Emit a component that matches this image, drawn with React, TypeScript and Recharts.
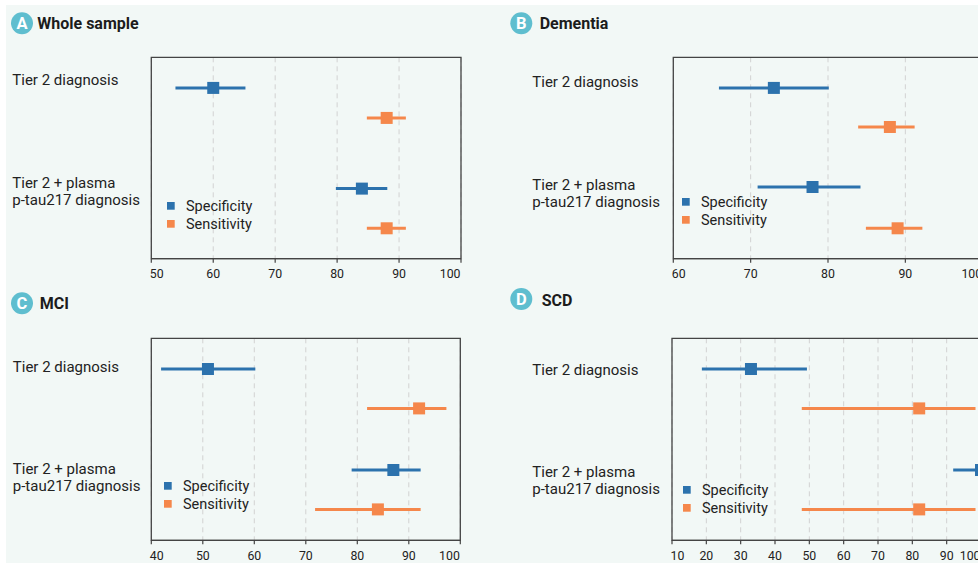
import React from 'react';
import {
  ScatterChart,
  Scatter,
  XAxis,
  YAxis,
  CartesianGrid,
  ErrorBar,
  ReferenceArea,
  Legend,
} from 'recharts';

// ---------- data ----------
const panelLetters = ['A', 'B', 'C', 'D'];
const panelTitles = ['Whole sample', 'Dementia', 'MCI', 'SCD'];
const groupLabels = [['Tier 2 diagnosis'], ['Tier 2 + plasma', 'p-tau217 diagnosis']];
const seriesNames = ['Specificity', 'Sensitivity'];
const seriesColors = ['#2c72ad', '#f5874b'];

const ticksA = [50, 60, 70, 80, 90, 100];
const ticksB = [60, 70, 80, 90, 100];
const ticksC = [40, 50, 60, 70, 80, 90, 100];
const ticksD = [10, 20, 30, 40, 50, 60, 70, 80, 90, 100];

// values per group: [Tier 2, Tier 2 + plasma p-tau217]
const specA = [60.0, 84.0];
const specLowA = [53.9, 79.8];
const specHighA = [65.2, 88.1];
const sensA = [88.0, 88.0];
const sensLowA = [84.8, 84.8];
const sensHighA = [91.1, 91.1];

const specB = [73.0, 78.0];
const specLowB = [65.9, 70.9];
const specHighB = [80.1, 84.2];
const sensB = [88.0, 89.0];
const sensLowB = [83.9, 84.9];
const sensHighB = [91.2, 92.2];

const specC = [51.0, 87.0];
const specLowC = [41.9, 78.9];
const specHighC = [60.2, 92.3];
const sensC = [92.0, 84.0];
const sensLowC = [81.9, 71.8];
const sensHighC = [97.3, 92.3];

const specD = [33.0, 100.0];
const specLowD = [18.7, 91.9];
const specHighD = [49.3, 100.0];
const sensD = [82.0, 82.0];
const sensLowD = [47.8, 47.8];
const sensHighD = [98.4, 98.4];

// row placement on the (0-100, top-down) vertical scale
const specRowA = [15.2, 65.2];
const sensRowA = [30.1, 84.9];
const specRowB = [15.2, 64.4];
const sensRowB = [34.6, 84.9];
const specRowC = [15.2, 65.2];
const sensRowC = [34.7, 84.7];
const specRowD = [15.2, 65.2];
const sensRowD = [34.7, 84.7];

const labelRowA = [14.0, 64.7];
const labelRowB = [14.9, 65.9];
const labelRowC = [16.6, 67.3];
const labelRowD = [18.2, 68.8];

// ---------- helpers ----------
const build = (v: number[], lo: number[], hi: number[], row: number[]) =>
  v.map((val, i) => ({ x: val, y: row[i], err: [val - lo[i], hi[i] - val] }));

const TEXT = '#222222';
const AXIS = '#444444';

type PanelCfg = {
  left: number;
  top: number;
  width: number;
  height: number;
  margin: { top: number; right: number; bottom: number; left: number };
  xAxisHeight: number;
  ticks: number[];
  spec: any[];
  sens: any[];
  labelRows: number[];
  labelX: number;
  legendX: number;
  legendY: number;
};

const panels: PanelCfg[] = [
  {
    left: 0, top: 0, width: 490, height: 290,
    margin: { top: 57.3, right: 29, bottom: 1.3, left: 151.3 },
    xAxisHeight: 30, ticks: ticksA,
    spec: build(specA, specLowA, specHighA, specRowA),
    sens: build(sensA, sensLowA, sensHighA, sensRowA),
    labelRows: labelRowA, labelX: 12.3, legendX: 166.7, legendY: 201.7,
  },
  {
    left: 490, top: 0, width: 520, height: 290,
    margin: { top: 57.3, right: 27.3, bottom: 1.3, left: 183.3 },
    xAxisHeight: 30, ticks: ticksB,
    spec: build(specB, specLowB, specHighB, specRowB),
    sens: build(sensB, sensLowB, sensHighB, sensRowB),
    labelRows: labelRowB, labelX: 532.3, legendX: 682.3, legendY: 197.7,
  },
  {
    left: 0, top: 280, width: 490, height: 283,
    margin: { top: 58.3, right: 29.7, bottom: 0, left: 151.3 },
    xAxisHeight: 22.7, ticks: ticksC,
    spec: build(specC, specLowC, specHighC, specRowC),
    sens: build(sensC, sensLowC, sensHighC, sensRowC),
    labelRows: labelRowC, labelX: 12.8, legendX: 164.3, legendY: 481.7,
  },
  {
    left: 490, top: 280, width: 520, height: 283,
    margin: { top: 58.3, right: 29, bottom: 0, left: 182 },
    xAxisHeight: 22.7, ticks: ticksD,
    spec: build(specD, specLowD, specHighD, specRowD),
    sens: build(sensD, sensLowD, sensHighD, sensRowD),
    labelRows: labelRowD, labelX: 532.3, legendX: 683, legendY: 486,
  },
];

const headers = [
  { cx: 22, cy: 23.3, tx: 37.3, ty: 29.3 },
  { cx: 521.3, cy: 23.3, tx: 539.7, ty: 29.3 },
  { cx: 22, cy: 303.3, tx: 39.7, ty: 309.3 },
  { cx: 521.3, cy: 299, tx: 541.7, ty: 305.7 },
];

const squareShape = (color: string) => (props: any) => {
  const { cx, cy } = props;
  if (cx == null || cy == null) return <g />;
  return <rect x={cx - 6} y={cy - 6} width={12} height={12} fill={color} />;
};

const makeXTick = (ticks: number[]) => (props: any) => {
  const { x, y, payload } = props;
  const v = payload.value;
  let anchor: 'start' | 'middle' | 'end' = 'middle';
  let dx = 0;
  if (v === ticks[0]) { anchor = 'start'; dx = -1.5; }
  else if (v === ticks[ticks.length - 1]) { anchor = 'end'; dx = -0.5; }
  return (
    <text x={x + dx} y={y} dy={15.3} textAnchor={anchor} fontSize={12.3} fill={TEXT} fontFamily="Roboto">
      {v}
    </text>
  );
};

const makeYTick = (rows: number[], lx: number) => (props: any) => {
  const { y, payload } = props;
  let idx = 0;
  let best = Infinity;
  rows.forEach((r, i) => {
    const d = Math.abs(r - payload.value);
    if (d < best) { best = d; idx = i; }
  });
  const lines = groupLabels[idx] || [];
  return (
    <text x={lx} y={y} textAnchor="start" fontSize={15} fill={TEXT} fontFamily="Roboto">
      {lines.map((l, i) => (
        <tspan key={i} x={lx} dy={i === 0 ? 0 : 17.2}>{l}</tspan>
      ))}
    </text>
  );
};

const renderLegend = (props: any) => {
  const raw = props.payload || [];
  const items = seriesNames.map((name, i) => {
    const found = raw.find((it: any) => it.value === name);
    return { value: name, color: (found && found.color) || seriesColors[i] };
  });
  return (
    <svg width={110} height={36} style={{ display: 'block', overflow: 'visible' }}>
      {items.map((it: any, i: number) => (
        <g key={i}>
          <rect x={0} y={i * 18} width={7.7} height={7.7} fill={it.color} />
          <text x={19} y={i * 18 + 9.3} fontSize={14.5} fill={TEXT} fontFamily="Roboto">
            {it.value}
          </text>
        </g>
      ))}
    </svg>
  );
};

function Panel({ cfg }: { cfg: PanelCfg }) {
  const xMin = cfg.ticks[0];
  const xMax = cfg.ticks[cfg.ticks.length - 1];
  const yAxisWidth = cfg.margin.left;
  return (
    <div style={{ position: 'absolute', left: cfg.left, top: cfg.top }}>
      <ScatterChart
        width={cfg.width}
        height={cfg.height}
        margin={{ ...cfg.margin, left: 0 }}
      >
        <CartesianGrid horizontal={false} stroke="#d2d2d2" strokeDasharray="5 4" />
        <XAxis
          type="number"
          dataKey="x"
          domain={[xMin, xMax]}
          ticks={cfg.ticks}
          interval={0}
          allowDataOverflow
          height={cfg.xAxisHeight}
          stroke={AXIS}
          tickSize={4}
          tickMargin={0}
          tick={makeXTick(cfg.ticks)}
          axisLine={{ stroke: AXIS, strokeWidth: 1.3 }}
          tickLine={{ stroke: AXIS, strokeWidth: 1.2 }}
        />
        <YAxis
          type="number"
          dataKey="y"
          domain={[0, 100]}
          reversed
          width={yAxisWidth}
          ticks={cfg.labelRows}
          interval={0}
          axisLine={false}
          tickLine={false}
          tick={makeYTick(cfg.labelRows, cfg.labelX - cfg.left)}
        />
        <ReferenceArea
          x1={xMin}
          x2={xMax}
          y1={0}
          y2={100}
          fill="none"
          fillOpacity={0}
          stroke={AXIS}
          strokeWidth={1.3}
          ifOverflow="visible"
        />
        <Legend
          layout="vertical"
          align="center"
          verticalAlign="middle"
          content={renderLegend}
          wrapperStyle={{
            left: cfg.legendX - cfg.left,
            top: cfg.legendY - cfg.top,
            width: 110,
            height: 36,
          }}
        />
        <Scatter
          name={seriesNames[0]}
          data={cfg.spec}
          fill={seriesColors[0]}
          shape={squareShape(seriesColors[0])}
          isAnimationActive={false}
          legendType="square"
        >
          <ErrorBar dataKey="err" direction="x" width={0} stroke={seriesColors[0]} strokeWidth={3} />
        </Scatter>
        <Scatter
          name={seriesNames[1]}
          data={cfg.sens}
          fill={seriesColors[1]}
          shape={squareShape(seriesColors[1])}
          isAnimationActive={false}
          legendType="square"
        >
          <ErrorBar dataKey="err" direction="x" width={0} stroke={seriesColors[1]} strokeWidth={3} />
        </Scatter>
      </ScatterChart>
    </div>
  );
}

export default function App() {
  return (
    <div
      style={{
        position: 'absolute',
        left: 0,
        top: 0,
        width: 978,
        height: 563,
        overflow: 'hidden',
        background: '#ffffff',
        fontFamily: 'Roboto, sans-serif',
      }}
    >
      <div
        style={{
          position: 'absolute',
          left: 6,
          top: 5,
          width: 1100,
          height: 600,
          background: '#f2f8f6',
        }}
      />
      {panels.map((p, i) => (
        <Panel key={i} cfg={p} />
      ))}
      <svg
        width={978}
        height={563}
        style={{ position: 'absolute', left: 0, top: 0, pointerEvents: 'none' }}
      >
        {headers.map((h, i) => (
          <g key={i}>
            <circle cx={h.cx} cy={h.cy} r={11} fill="#5fbecf" />
            <text
              x={h.cx}
              y={h.cy + 5.8}
              textAnchor="middle"
              fontSize={16.5}
              fontWeight={700}
              fill="#ffffff"
              fontFamily="Roboto"
            >
              {panelLetters[i]}
            </text>
            <text x={h.tx} y={h.ty} fontSize={16} fontWeight={700} fill="#1c1c1c" fontFamily="Roboto">
              {panelTitles[i]}
            </text>
          </g>
        ))}
      </svg>
    </div>
  );
}
